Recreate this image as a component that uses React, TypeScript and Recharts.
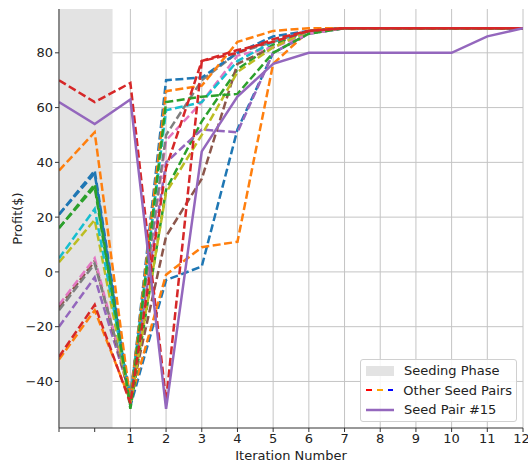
import React from 'react'
import {
  LineChart,
  Line,
  XAxis,
  YAxis,
  CartesianGrid,
  ReferenceArea,
} from 'recharts'

const iterations = [-1, 0, 1, 2, 3, 4, 5, 6, 7, 8, 9, 10, 11, 12]
const xTicks = [-1, 0, 1, 2, 3, 4, 5, 6, 7, 8, 9, 10, 11, 12]
const yTicks = [-40, -20, 0, 20, 40, 60, 80]

// other seed pairs (dashed)
const blueA = [21, 37, -47, 70, 71, 80, 86, 88, 89, 89, 89, 89, 89, 89]
const orangeA = [37, 51, -47, 66, 68, 84, 88, 89, 89, 89, 89, 89, 89, 89]
const greenA = [16, 32, -49, 62, 64, 65, 80, 87, 89, 89, 89, 89, 89, 89]
const purpleA = [-20, -2, -45, 40, 52, 51, 80, 87, 89, 89, 89, 89, 89, 89]
const brownA = [-13, 4, -46, 13, 34, 76, 82, 88, 89, 89, 89, 89, 89, 89]
const pinkA = [-12, 5, -45, 48, 62, 79, 82, 87, 89, 89, 89, 89, 89, 89]
const grayA = [-14, 3, -44, 50, 70, 80, 84, 88, 89, 89, 89, 89, 89, 89]
const oliveA = [3.5, 19, -48, 29, 50, 73, 82, 88, 89, 89, 89, 89, 89, 89]
const cyanA = [5, 23, -46, 59, 62, 77, 84, 88, 89, 89, 89, 89, 89, 89]
const blueB = [21, 36, -49, -3, 2, 52, 80, 87, 89, 89, 89, 89, 89, 89]
const orangeB = [-32, -14, -47, -1, 9, 11, 76, 88, 89, 89, 89, 89, 89, 89]
const greenB = [16, 31, -50, 30, 55, 74, 83, 88, 89, 89, 89, 89, 89, 89]
const redB = [-31, -12, -48, 38, 77, 81, 84, 88, 89, 89, 89, 89, 89, 89]
const redA = [70, 62, 69, -47, 77, 80, 85, 88, 89, 89, 89, 89, 89, 89]

// highlighted seed pair
const seed15 = [62, 54, 63, -50, 44, 64, 76, 80, 80, 80, 80, 80, 86, 89]

const others = [
  { key: 'blueB', values: blueB, color: '#1f77b4' },
  { key: 'orangeB', values: orangeB, color: '#ff7f0e' },
  { key: 'greenB', values: greenB, color: '#2ca02c' },
  { key: 'purpleA', values: purpleA, color: '#9467bd' },
  { key: 'brownA', values: brownA, color: '#8c564b' },
  { key: 'pinkA', values: pinkA, color: '#e377c2' },
  { key: 'grayA', values: grayA, color: '#7f7f7f' },
  { key: 'oliveA', values: oliveA, color: '#bcbd22' },
  { key: 'cyanA', values: cyanA, color: '#17becf' },
  { key: 'blueA', values: blueA, color: '#1f77b4' },
  { key: 'orangeA', values: orangeA, color: '#ff7f0e' },
  { key: 'greenA', values: greenA, color: '#2ca02c' },
  { key: 'redB', values: redB, color: '#d62728' },
  { key: 'redA', values: redA, color: '#d62728' },
]

const data = iterations.map((x, i) => {
  const row: Record<string, number> = { x, seed15: seed15[i] }
  others.forEach((s) => {
    row[s.key] = s.values[i]
  })
  return row
})

const font = 'DejaVu Sans, sans-serif'
const minus = (v: number) => String(v).replace('-', '\u2212')

function SeedLegend() {
  return (
    <div
      style={{
        position: 'absolute',
        left: 360,
        top: 359,
        width: 157,
        boxSizing: 'border-box',
        border: '1px solid #d0d0d0',
        borderRadius: 3,
        background: 'rgba(255,255,255,0.85)',
        padding: '1px 4px 1px 5px',
        fontFamily: font,
        fontSize: 13,
        color: '#222',
        lineHeight: '19.5px',
        whiteSpace: 'nowrap',
      }}
    >
      <div style={{ display: 'flex', alignItems: 'center' }}>
        <svg width={28} height={10} style={{ marginRight: 10 }}>
          <rect x={0} y={0} width={28} height={10} fill="#e3e3e3" />
        </svg>
        Seeding Phase
      </div>
      <div style={{ display: 'flex', alignItems: 'center' }}>
        <svg width={28} height={10} style={{ marginRight: 10 }}>
          <line x1={0} y1={5} x2={6} y2={5} stroke="#ff0000" strokeWidth={2} />
          <line x1={11} y1={5} x2={17} y2={5} stroke="#ffa500" strokeWidth={2} />
          <line x1={22} y1={5} x2={28} y2={5} stroke="#0000ff" strokeWidth={2} />
        </svg>
        Other Seed Pairs
      </div>
      <div style={{ display: 'flex', alignItems: 'center' }}>
        <svg width={28} height={10} style={{ marginRight: 10 }}>
          <line x1={0} y1={5} x2={28} y2={5} stroke="#9467bd" strokeWidth={2.5} />
        </svg>
        Seed Pair #15
      </div>
    </div>
  )
}

export default function App() {
  return (
    <div style={{ position: 'absolute', left: 0, top: 0, width: 528, height: 463, background: '#fff' }}>
      <LineChart
        width={528}
        height={463}
        data={data}
        margin={{ top: 9, right: 5, bottom: 0, left: 0 }}
      >
        <ReferenceArea x1={-1} x2={0.5} fill="#e3e3e3" fillOpacity={1} stroke="none" ifOverflow="visible" />
        <CartesianGrid stroke="#c4c4c4" strokeWidth={1} horizontalValues={yTicks} verticalValues={xTicks} />
        <XAxis
          dataKey="x"
          type="number"
          domain={[-1, 12]}
          ticks={xTicks}
          tickFormatter={(v: number) => (v < 1 ? '' : String(v))}
          tick={{ fontSize: 13, fill: '#222', fontFamily: font }}
          tickSize={4}
          tickLine={{ stroke: '#333' }}
          axisLine={{ stroke: '#333' }}
          allowDataOverflow
          height={35}
          label={{ value: 'Iteration Number', position: 'insideBottom', offset: 3, fontSize: 13, fill: '#222', fontFamily: font }}
        />
        <XAxis xAxisId="top" orientation="top" type="number" domain={[-1, 12]} dataKey="x" tick={false} tickLine={false} height={0} axisLine={{ stroke: '#333' }} />
        <YAxis
          type="number"
          domain={[-57, 96]}
          ticks={yTicks}
          allowDataOverflow
          width={59}
          tickFormatter={minus}
          tick={{ fontSize: 13, fill: '#222', fontFamily: font }}
          tickSize={4}
          tickLine={{ stroke: '#333' }}
          axisLine={{ stroke: '#333' }}
          label={{ value: 'Profit($)', angle: -90, position: 'insideLeft', offset: 17, fontSize: 13, fill: '#222', fontFamily: font, style: { textAnchor: 'middle' } }}
        />
        <YAxis yAxisId="right" orientation="right" domain={[-57, 96]} tick={false} tickLine={false} width={0} axisLine={{ stroke: '#333' }} />
        {others.map((s) => (
          <Line
            key={s.key}
            dataKey={s.key}
            stroke={s.color}
            strokeWidth={2.5}
            strokeDasharray="8 3.5"
            dot={false}
            activeDot={false}
            isAnimationActive={false}
            legendType="none"
          />
        ))}
        <Line
          dataKey="seed15"
          stroke="#9467bd"
          strokeWidth={2.5}
          dot={false}
          activeDot={false}
          isAnimationActive={false}
          legendType="none"
        />
      </LineChart>
      <SeedLegend />
    </div>
  )
}
